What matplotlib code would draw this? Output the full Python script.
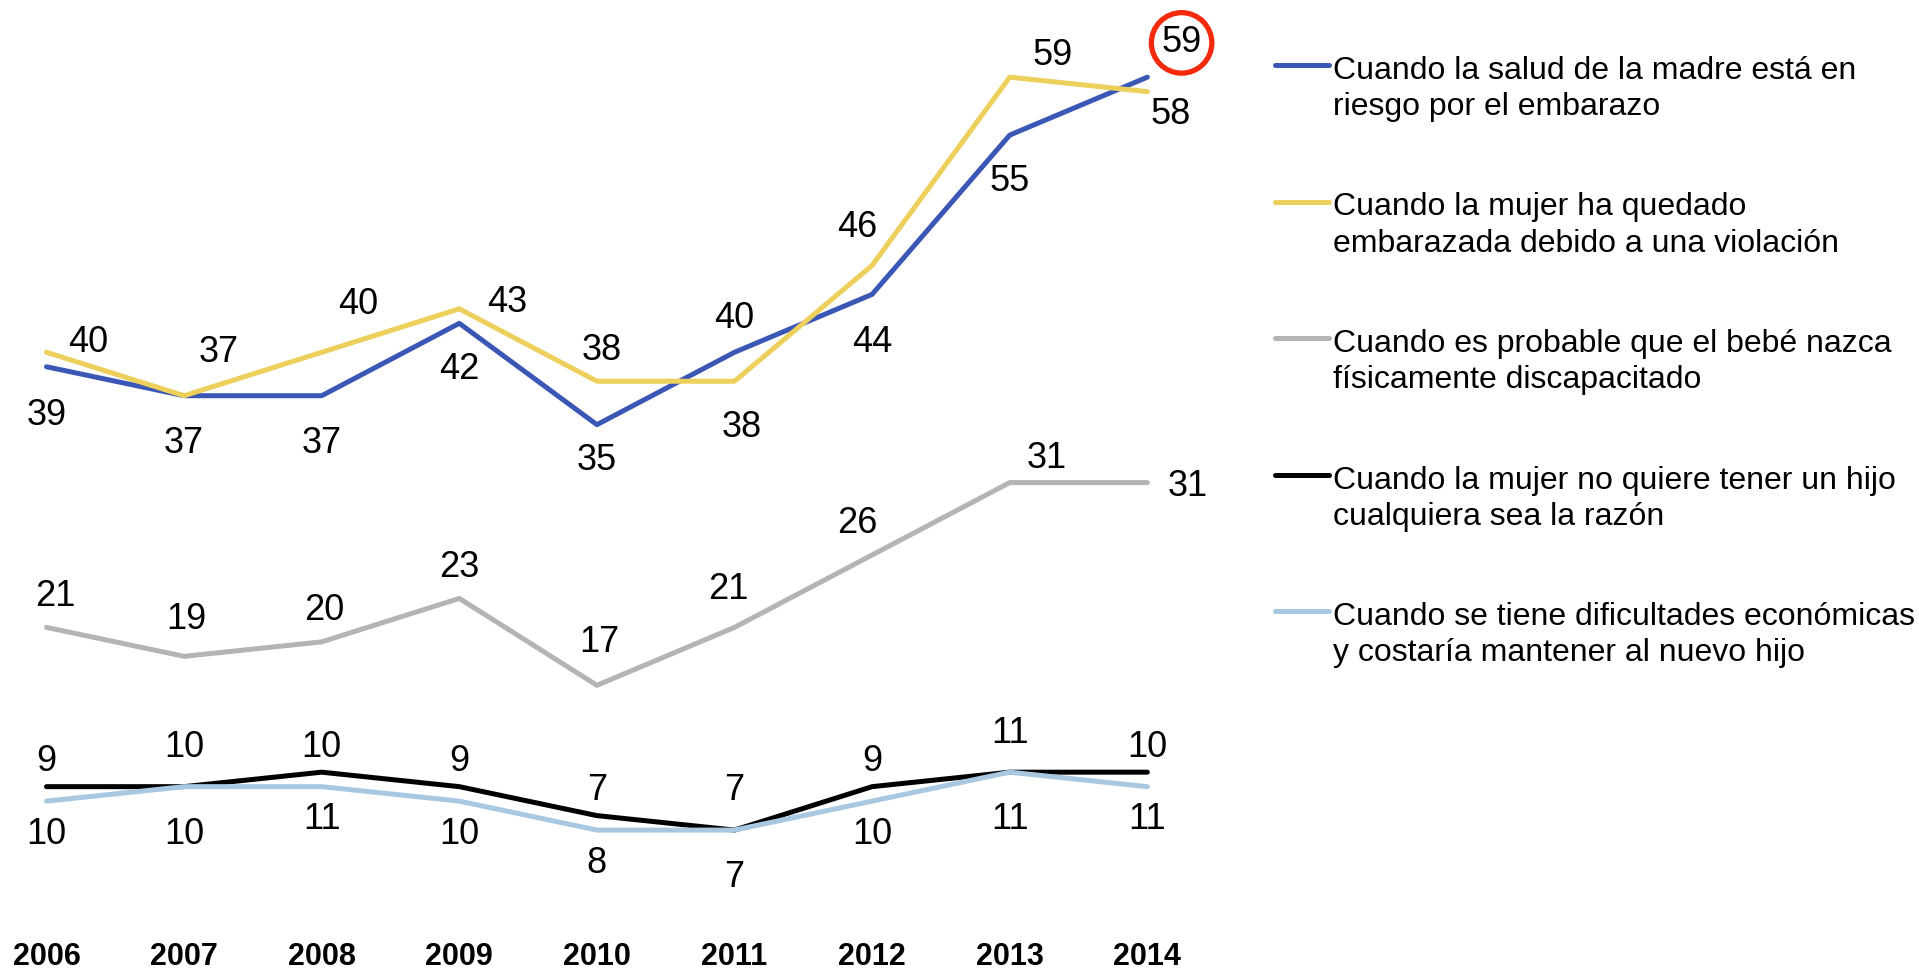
import matplotlib.pyplot as plt
from matplotlib.lines import Line2D
from matplotlib.transforms import blended_transform_factory

plt.rcParams['font.family'] = ['Liberation Sans', 'DejaVu Sans']

years = [2006, 2007, 2008, 2009, 2010, 2011, 2012, 2013, 2014]
salud = [39, 37, 37, 42, 35, 40, 44, 55, 59]
violacion = [40, 37, 40, 43, 38, 38, 46, 59, 58]
discapacidad = [21, 19, 20, 23, 17, 21, 26, 31, 31]
no_quiere = [10, 10, 11, 10, 8, 7, 10, 11, 11]
economicas = [9, 10, 10, 9, 7, 7, 9, 11, 10]

labels = [
    "Cuando la salud de la madre está en\nriesgo por el embarazo",
    "Cuando la mujer ha quedado\nembarazada debido a una violación",
    "Cuando es probable que el bebé nazca\nfísicamente discapacitado",
    "Cuando la mujer no quiere tener un hijo\ncualquiera sea la razón",
    "Cuando se tiene dificultades económicas\ny costaría mantener al nuevo hijo",
]
colors = ['#3B57B5', '#EDCF5B', '#B4B4B4', '#000000', '#A8C8E1']

# label offsets from each point, (dx, dy) in pixels, dy pointing down
S = 1.224
off_salud = [(0, 40), (0, 39), (0, 39), (0, 38), (0, 29), (0, -28), (0, 39), (0, 38), (28, -28)]
off_violacion = [(34, -8), (28, -35), (30, -39), (39, -5), (4, -25), (6, 38), (-12, -31), (35, -18), (19, 19)]
off_discapacidad = [(7, -25), (2, -30), (2, -26), (0, -25), (2, -35), (-5, -31), (-12, -26), (30, -20), (33, 3)]
off_no_quiere = [(0, 39)] * 9
off_economicas = [(0, -32)] * 9

series = [salud, violacion, discapacidad, no_quiere, economicas]
offsets = [off_salud, off_violacion, off_discapacidad, off_no_quiere, off_economicas]

fig = plt.figure(figsize=(19.19, 9.73), dpi=100)
ax = fig.add_axes([0, 0, 1, 1])
ax.axis('off')
ax.set_xlim(-0.338, 13.608)
ax.set_ylim(-2.87, 64.33)

x = list(range(len(years)))
for vals, col in zip(series, colors):
    ax.plot(x, vals, color=col, lw=3.6, solid_capstyle='round', solid_joinstyle='round')

for k, (vals, offs) in enumerate(zip(series, offsets)):
    for i, (v, (dx, dy)) in enumerate(zip(vals, offs)):
        circled = (k == 0 and i == len(vals) - 1)
        ax.annotate(str(v), (i, v), xytext=(dx * S, -dy * S), textcoords='offset pixels',
                    ha='center', va='center', fontsize=26,
                    bbox=dict(boxstyle='circle,pad=0.28', fc='white', ec='#F52A0C', lw=3.8) if circled else None)

# year labels along the bottom
trans = blended_transform_factory(ax.transData, fig.transFigure)
for i, yr in enumerate(years):
    ax.text(i, 1 - 957 / 973, str(yr), transform=trans, ha='center', va='center',
            fontsize=22, fontweight='bold', family=['Liberation Sans Narrow', 'Liberation Sans'])

# legend on the right
W, H = 1919, 973
for k, (lab, col) in enumerate(zip(labels, colors)):
    yc = 65 + k * 136.5
    fig.add_artist(Line2D([1275 / W, 1329 / W], [1 - yc / H, 1 - yc / H], color=col, lw=3.6,
                          solid_capstyle='round', transform=fig.transFigure))
    fig.text(1333 / W, 1 - (yc - 9) / H, lab, ha='left', va='top', fontsize=23, linespacing=1.27)

fig.savefig('out.png', dpi=100)
